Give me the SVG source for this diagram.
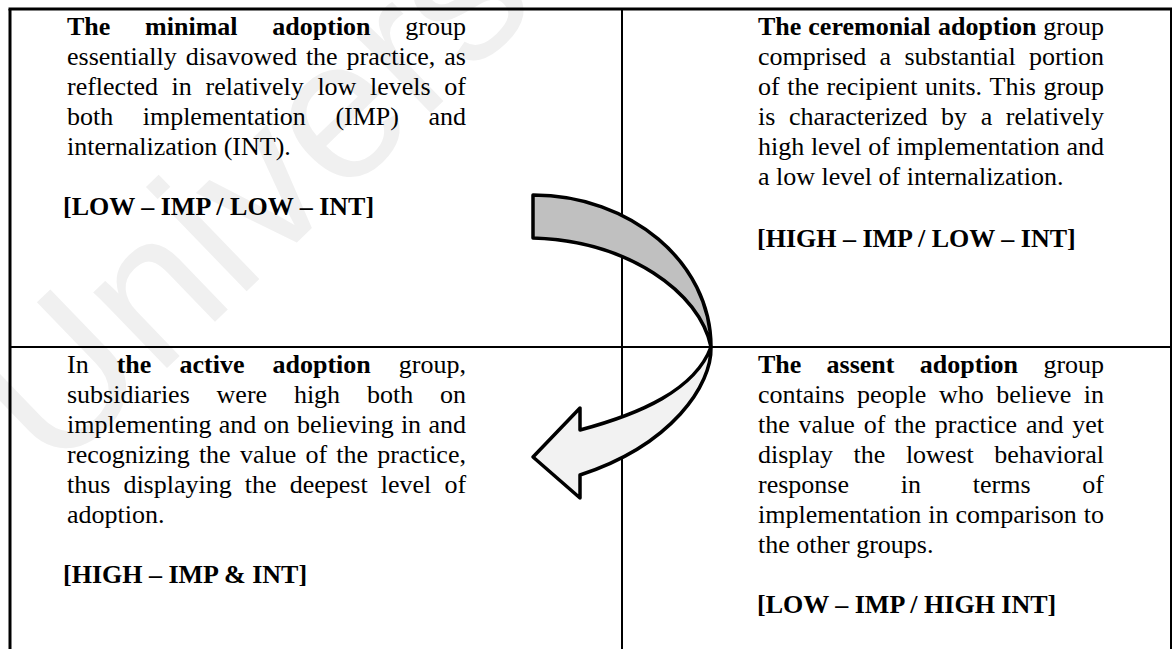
<svg xmlns="http://www.w3.org/2000/svg" width="1175" height="649" viewBox="0 0 1175 649">
  <defs>
    <style>
      text.t{font-family:"Liberation Serif","Times New Roman","DejaVu Serif",serif;font-size:26px;fill:#000}
      tspan.b,text.b{font-weight:bold}
      text.wm{font-family:"Liberation Sans",Arial,sans-serif;font-size:200px;fill:#f0f0f0}
      .outer{stroke:#000;stroke-width:3;fill:none}
      .inner{stroke:#000;stroke-width:2;fill:none}
      .arrow{stroke:#000;stroke-width:3.5;stroke-linejoin:round}
    </style>
  </defs>
  <rect width="1175" height="649" fill="#fff"/>

  <!-- faint background watermark -->
  <text class="wm" transform="translate(53,478) rotate(-44)">Univers</text>

  <!-- table rules -->
  <g id="grid">
    <line class="outer" x1="8.5" y1="9" x2="1172" y2="9"/>
    <line class="outer" x1="10" y1="9" x2="10" y2="649"/>
    <line class="inner" x1="1171" y1="9" x2="1171" y2="649"/>
    <line class="inner" x1="622" y1="9" x2="622" y2="649"/>
    <line class="inner" x1="10" y1="347" x2="1171" y2="347"/>
  </g>

  <g font-family="Liberation Serif, Times New Roman, serif">
  <!-- top-left cell -->
  <g id="minimal">
    <text class="t" y="35"><tspan class="b" x="67">The</tspan><tspan class="b" x="145.1">minimal</tspan><tspan class="b" x="272.3">adoption</tspan><tspan x="405.3">group</tspan></text>
    <text class="t" y="65"><tspan x="67">essentially</tspan><tspan x="185.7">disavowed</tspan><tspan x="305.9">the</tspan><tspan x="346.6">practice,</tspan><tspan x="444.3">as</tspan></text>
    <text class="t" y="95"><tspan x="67">reflected</tspan><tspan x="171.6">in</tspan><tspan x="205.5">relatively</tspan><tspan x="317.4">low</tspan><tspan x="370">levels</tspan><tspan x="444.3">of</tspan></text>
    <text class="t" y="125"><tspan x="67">both</tspan><tspan x="142.7">implementation</tspan><tspan x="335.4">(IMP)</tspan><tspan x="428.5">and</tspan></text>
    <text class="t" x="67" y="155">internalization (INT).</text>
    <text class="t b" x="63" y="215">[LOW – IMP / LOW – INT]</text>
  </g>

  <!-- top-right cell -->
  <g id="ceremonial">
    <text class="t" y="35"><tspan class="b" x="758">The</tspan><tspan class="b" x="808.3">ceremonial</tspan><tspan class="b" x="938.1">adoption</tspan><tspan x="1043.3">group</tspan></text>
    <text class="t" y="65"><tspan x="758">comprised</tspan><tspan x="879.6">a</tspan><tspan x="904.4">substantial</tspan><tspan x="1028.9">portion</tspan></text>
    <text class="t" y="95"><tspan x="758">of</tspan><tspan x="787.2">the</tspan><tspan x="826.5">recipient</tspan><tspan x="925">units.</tspan><tspan x="989.6">This</tspan><tspan x="1043.4">group</tspan></text>
    <text class="t" y="125"><tspan x="758">is</tspan><tspan x="788.9">characterized</tspan><tspan x="941.1">by</tspan><tspan x="980.7">a</tspan><tspan x="1005.8">relatively</tspan></text>
    <text class="t" y="155"><tspan x="758">high</tspan><tspan x="810.9">level</tspan><tspan x="868.2">of</tspan><tspan x="896.5">implementation</tspan><tspan x="1066.5">and</tspan></text>
    <text class="t" x="758" y="185">a low level of internalization.</text>
    <text class="t b" x="757" y="247">[HIGH – IMP / LOW – INT]</text>
  </g>

  <!-- bottom-left cell -->
  <g id="active">
    <text class="t" y="373"><tspan x="67">In</tspan><tspan class="b" x="116.7">the</tspan><tspan class="b" x="179.5">active</tspan><tspan class="b" x="272.5">adoption</tspan><tspan x="398.8">group,</tspan></text>
    <text class="t" y="403"><tspan x="67">subsidiaries</tspan><tspan x="216.6">were</tspan><tspan x="293.9">high</tspan><tspan x="367">both</tspan><tspan x="440">on</tspan></text>
    <text class="t" y="433"><tspan x="67">implementing</tspan><tspan x="218.8">and</tspan><tspan x="263.6">on</tspan><tspan x="296.9">believing</tspan><tspan x="400.9">in</tspan><tspan x="428.5">and</tspan></text>
    <text class="t" y="463"><tspan x="67">recognizing</tspan><tspan x="198.9">the</tspan><tspan x="239.9">value</tspan><tspan x="305.4">of</tspan><tspan x="336.3">the</tspan><tspan x="377.2">practice,</tspan></text>
    <text class="t" y="493"><tspan x="67">thus</tspan><tspan x="123.4">displaying</tspan><tspan x="244.8">the</tspan><tspan x="289.7">deepest</tspan><tspan x="380.7">level</tspan><tspan x="444.4">of</tspan></text>
    <text class="t" x="67" y="523">adoption.</text>
    <text class="t b" x="63" y="583">[HIGH – IMP &amp; INT]</text>
  </g>

  <!-- bottom-right cell -->
  <g id="assent">
    <text class="t" y="373"><tspan class="b" x="758">The</tspan><tspan class="b" x="826.6">assent</tspan><tspan class="b" x="919.8">adoption</tspan><tspan x="1043.4">group</tspan></text>
    <text class="t" y="403"><tspan x="758">contains</tspan><tspan x="857.1">people</tspan><tspan x="938.9">who</tspan><tspan x="996.2">believe</tspan><tspan x="1083.8">in</tspan></text>
    <text class="t" y="433"><tspan x="758">the</tspan><tspan x="798.6">value</tspan><tspan x="863.7">of</tspan><tspan x="894.2">the</tspan><tspan x="934.8">practice</tspan><tspan x="1025.9">and</tspan><tspan x="1072.2">yet</tspan></text>
    <text class="t" y="463"><tspan x="758">display</tspan><tspan x="853.6">the</tspan><tspan x="905.9">lowest</tspan><tspan x="994.2">behavioral</tspan></text>
    <text class="t" y="493"><tspan x="758">response</tspan><tspan x="900.8">in</tspan><tspan x="972.8">terms</tspan><tspan x="1082.3">of</tspan></text>
    <text class="t" y="523"><tspan x="758">implementation</tspan><tspan x="928.2">in</tspan><tspan x="955.5">comparison</tspan><tspan x="1083.8">to</tspan></text>
    <text class="t" x="758" y="553">the other groups.</text>
    <text class="t b" x="757" y="613">[LOW – IMP / HIGH INT]</text>
  </g>
  </g>

  <!-- curved block arrow: back band and front band with head -->
  <g id="connectors">
    <path class="arrow" fill="#c0c0c0" d="M533,195 C630,195 711,262 711,347 C700,292 628,241 533,238 Z"/>
    <path class="arrow" fill="#f2f2f2" d="M711,347 C712,385 672,445 580,475 L580,498 L533,457 L580,408 L580,430 C640,414 695,390 711,347 Z"/>
  </g>
</svg>
